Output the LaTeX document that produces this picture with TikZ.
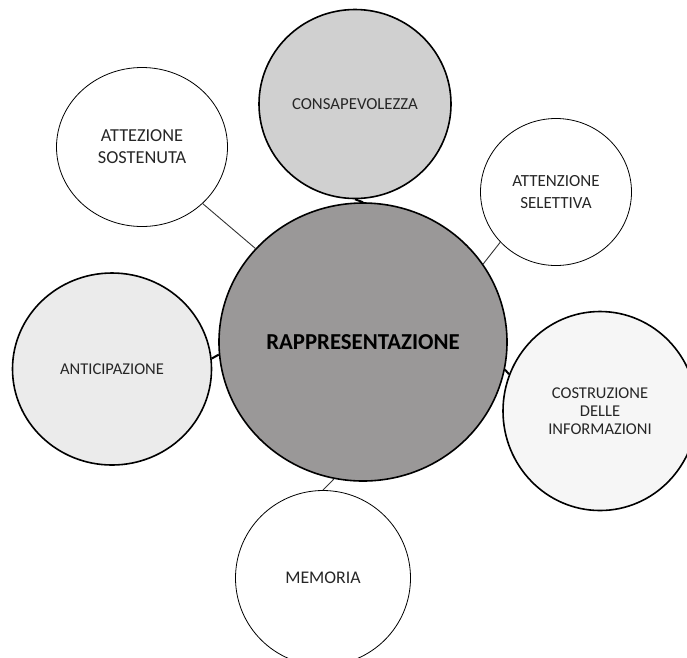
\documentclass[tikz,border=0pt]{standalone}
\usepackage{fontspec}
\setmainfont{Carlito}
\usepackage{tikz}
\usetikzlibrary{shapes.geometric}
\definecolor{centrgray}{HTML}{9A9898}
\definecolor{consagray}{HTML}{D0D0D0}
\definecolor{anticgray}{HTML}{EBEBEB}
\definecolor{costrgray}{HTML}{F6F6F6}
\definecolor{labelgray}{HTML}{262626}
\tikzstyle{bubble}=[ellipse, draw=black, inner sep=0pt, align=center, text=labelgray]
\tikzstyle{thickbubble}=[bubble, line width=1.6pt]
\tikzstyle{thinbubble}=[bubble, line width=0.8pt, fill=white]
\tikzstyle{link}=[draw=black!80, line width=0.9pt]
\tikzstyle{stub}=[draw=black, line width=2pt]

\begin{document}
\begin{tikzpicture}[x=1pt, y=-1pt]
		   \useasboundingbox (0, 0) rectangle (687, 657);
		   \node (centr) at (363, 342)[thickbubble, fill=centrgray, minimum width=288pt, minimum height=278pt,
			   font=\fontsize{22.8}{26}\selectfont\bfseries, text=black] {RAPPRESENTAZIONE};
		   \node (consa) at (355, 104)[thickbubble, fill=consagray, minimum width=192pt, minimum height=189pt,
			   font=\fontsize{16.8}{22}\selectfont] {CONSAPEVOLEZZA};
		   \node (sost) at (142, 147)[thinbubble, minimum width=171pt, minimum height=159pt,
			   font=\fontsize{18.3}{22}\selectfont] {ATTEZIONE\\SOSTENUTA};
		   \node (sel) at (556, 192)[thinbubble, minimum width=151pt, minimum height=147pt,
			   font=\fontsize{17}{22}\selectfont] {ATTENZIONE\\SELETTIVA};
		   \node (antic) at (112, 369)[thickbubble, fill=anticgray, minimum width=199pt, minimum height=192pt,
			   font=\fontsize{16.5}{22}\selectfont] {ANTICIPAZIONE};
		   \node (costr) at (600, 411)[thickbubble, fill=costrgray, minimum width=194pt, minimum height=199pt,
			   font=\fontsize{16.5}{18}\selectfont] {COSTRUZIONE\\DELLE\\INFORMAZIONI};
		   \node (memo) at (323, 578)[thinbubble, minimum width=175pt, minimum height=175pt,
			   font=\fontsize{17.8}{22}\selectfont] {MEMORIA};
		   % connectors
		   \draw[stub] (consa.south) -- (centr.north);
		   \draw[link] (sost.317) -- (centr.139);
		   \draw[link] (sel.222) -- (centr.33);
		   \draw[stub] (antic.6) -- (centr.185);
		   \draw[stub] (costr.158) -- (centr.349);
		   \draw[link] (memo.north) -- (centr.258);
	   \end{tikzpicture}
\end{document}
